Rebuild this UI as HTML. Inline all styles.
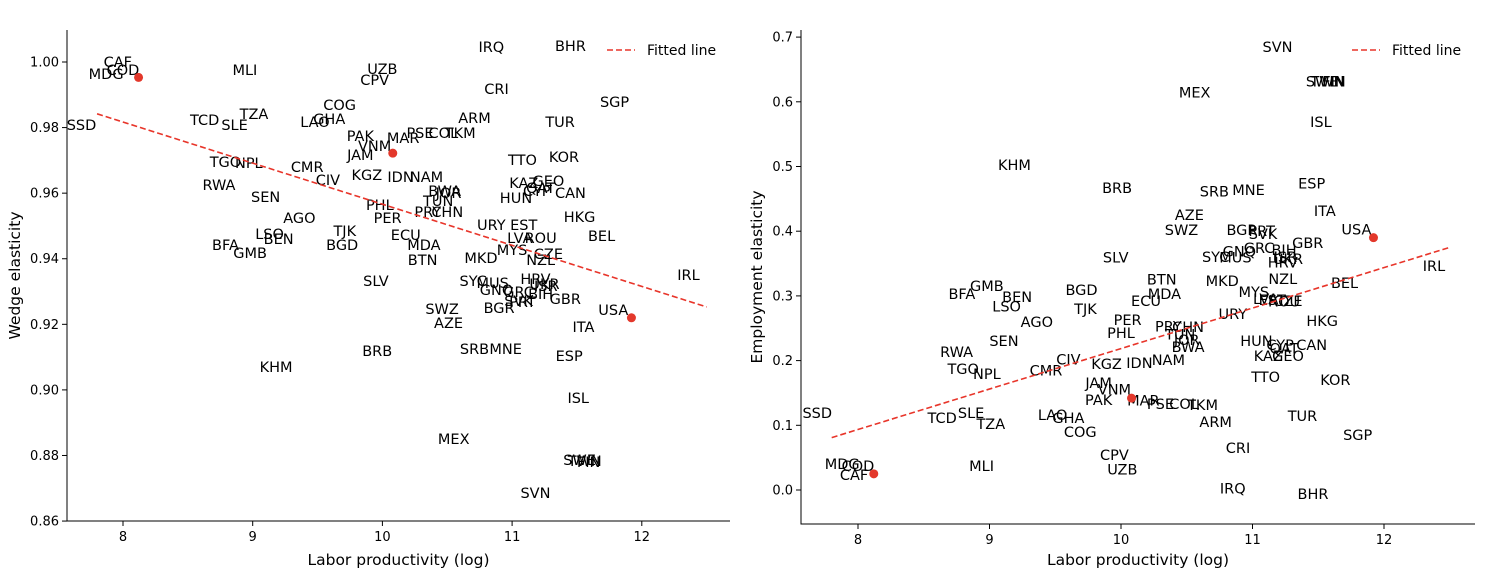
<!DOCTYPE html>
<html><head><meta charset="utf-8"><style>
body{margin:0;background:#fff;font-family:"Liberation Sans","DejaVu Sans",sans-serif}
svg text{font-family:"DejaVu Sans","Liberation Sans",sans-serif}
</style></head><body>
<svg id="c" width="1492" height="577" xmlns="http://www.w3.org/2000/svg"></svg>
<script>
const leftLabels=[["CAF",7.96,1.000],["COD",8.00,0.9976],["MDG",7.87,0.9963],["SSD",7.68,0.9808],["TCD",8.63,0.9823],["SLE",8.86,0.9808],["TZA",9.01,0.9841],["MLI",8.94,0.9976],["LAO",9.48,0.9817],["GHA",9.59,0.9826],["COG",9.67,0.9869],["UZB",10.00,0.9979],["CPV",9.94,0.9945],["IRQ",10.84,1.0046],["BHR",11.45,1.0049],["CRI",10.88,0.9918],["SGP",11.79,0.9878],["TUR",11.37,0.9817],["ARM",10.71,0.9829],["PAK",9.83,0.9774],["VNM",9.94,0.9744],["MAR",10.16,0.9768],["PSE",10.29,0.9783],["COL",10.47,0.9783],["TKM",10.60,0.9783],["JAM",9.83,0.9716],["TGO",8.79,0.9695],["NPL",8.97,0.9692],["CMR",9.42,0.9680],["CIV",9.58,0.9640],["KGZ",9.88,0.9655],["IDN",10.14,0.9649],["NAM",10.34,0.9649],["KOR",11.40,0.9710],["TTO",11.08,0.9701],["RWA",8.74,0.9625],["SEN",9.10,0.9588],["KAZ",11.09,0.9631],["GEO",11.28,0.9637],["QAT",11.22,0.9616],["CYP",11.19,0.9607],["CAN",11.45,0.9600],["HUN",11.03,0.9585],["BWA",10.48,0.9607],["JOR",10.51,0.9600],["TUN",10.43,0.9576],["PHL",9.98,0.9564],["PRY",10.35,0.9543],["CHN",10.50,0.9543],["PER",10.04,0.9524],["AGO",9.36,0.9524],["HKG",11.52,0.9527],["URY",10.84,0.9503],["EST",11.09,0.9503],["TJK",9.71,0.9485],["LSO",9.13,0.9475],["BEN",9.20,0.9460],["ECU",10.18,0.9472],["BEL",11.69,0.9469],["LVA",11.06,0.9463],["ROU",11.22,0.9463],["BFA",8.79,0.9442],["BGD",9.69,0.9442],["MDA",10.32,0.9442],["MYS",11.00,0.9427],["GMB",8.98,0.9417],["CZE",11.28,0.9414],["MKD",10.76,0.9402],["BTN",10.31,0.9396],["NZL",11.22,0.9396],["IRL",12.36,0.9350],["HRV",11.18,0.9338],["SLV",9.95,0.9332],["SYC",10.70,0.9332],["MUS",10.85,0.9326],["UKR",11.25,0.9323],["ISR",11.26,0.9317],["GNQ",10.88,0.9305],["GRC",11.05,0.9298],["BIH",11.22,0.9292],["SVK",11.05,0.9271],["PRT",11.08,0.9268],["GBR",11.41,0.9277],["BGR",10.90,0.9250],["SWZ",10.46,0.9247],["USA",11.78,0.9244],["AZE",10.51,0.9204],["ITA",11.55,0.9192],["SRB",10.71,0.9125],["MNE",10.95,0.9125],["BRB",9.96,0.9119],["ESP",11.44,0.9104],["KHM",9.18,0.9070],["ISL",11.51,0.8975],["MEX",10.55,0.8850],["SWE",11.52,0.8786],["TWN",11.56,0.8783],["FIN",11.59,0.8780],["SVN",11.18,0.8685]];
const rightLabels=[["SVN",11.19,0.685],["SWE",11.53,0.631],["TWN",11.57,0.631],["FIN",11.62,0.631],["MEX",10.56,0.614],["ISL",11.52,0.569],["KHM",9.19,0.502],["BRB",9.97,0.467],["SRB",10.71,0.461],["MNE",10.97,0.464],["ESP",11.45,0.474],["AZE",10.52,0.425],["ITA",11.55,0.431],["SWZ",10.46,0.402],["BGR",10.92,0.402],["SVK",11.08,0.396],["PRT",11.07,0.400],["USA",11.79,0.403],["GBR",11.42,0.382],["GNQ",10.90,0.369],["GRC",11.05,0.374],["BIH",11.24,0.371],["ISR",11.25,0.360],["UKR",11.27,0.357],["SYC",10.72,0.360],["MUS",10.87,0.359],["SLV",9.96,0.359],["IRL",12.38,0.346],["NZL",11.23,0.326],["HRV",11.23,0.352],["BTN",10.31,0.325],["MKD",10.77,0.323],["BEL",11.70,0.320],["MDA",10.33,0.303],["MYS",11.01,0.306],["LVA",11.10,0.295],["EST",11.15,0.294],["CZE",11.27,0.292],["ROU",11.24,0.291],["BGD",9.70,0.309],["GMB",8.98,0.315],["BFA",8.79,0.303],["BEN",9.21,0.298],["ECU",10.19,0.292],["LSO",9.13,0.284],["TJK",9.73,0.280],["URY",10.85,0.272],["AGO",9.36,0.260],["PER",10.05,0.263],["HKG",11.53,0.261],["PRY",10.36,0.253],["CHN",10.51,0.252],["PHL",10.00,0.243],["TUN",10.45,0.240],["JOR",10.50,0.232],["BWA",10.51,0.221],["SEN",9.11,0.230],["HUN",11.03,0.230],["CYP",11.21,0.224],["QAT",11.24,0.219],["CAN",11.45,0.224],["KAZ",11.12,0.207],["GEO",11.27,0.207],["RWA",8.75,0.213],["CIV",9.60,0.202],["IDN",10.14,0.196],["NAM",10.36,0.201],["KGZ",9.89,0.195],["TGO",8.80,0.187],["NPL",8.98,0.179],["CMR",9.43,0.185],["TTO",11.10,0.175],["KOR",11.63,0.170],["JAM",9.83,0.165],["VNM",9.95,0.155],["PAK",9.83,0.139],["MAR",10.17,0.138],["PSE",10.30,0.133],["COL",10.48,0.133],["TKM",10.62,0.131],["SSD",7.69,0.119],["TCD",8.64,0.111],["SLE",8.86,0.119],["LAO",9.48,0.116],["GHA",9.60,0.111],["TZA",9.01,0.102],["ARM",10.72,0.105],["TUR",11.38,0.114],["COG",9.69,0.090],["SGP",11.80,0.085],["CRI",10.89,0.065],["CPV",9.95,0.054],["MDG",7.88,0.040],["COD",8.00,0.037],["MLI",8.94,0.037],["UZB",10.01,0.032],["CAF",7.97,0.023],["IRQ",10.85,0.002],["BHR",11.46,-0.006]];
const leftHighlightX=[8.12,10.08,11.92];
const leftHighlightY=[0.9953,0.9722,0.9220];
const rightHighlightX=[8.12,10.08,11.92];
const rightHighlightY=[0.025,0.142,0.390];
const leftFitX=[7.8,12.5];
const leftFitY=[0.9842,0.9253];
const rightFitX=[7.8,12.5];
const rightFitY=[0.081,0.375];
const xTicks=[8,9,10,11,12];
const leftYTicks=[0.86,0.88,0.90,0.92,0.94,0.96,0.98,1.00];
const rightYTicks=[0.0,0.1,0.2,0.3,0.4,0.5,0.6,0.7];

const svg=document.getElementById('c');
const NS='http://www.w3.org/2000/svg';
function mk(tag,attrs,parent,txt){const e=document.createElementNS(NS,tag);for(const k in attrs)e.setAttribute(k,attrs[k]);if(txt!==undefined)e.textContent=txt;parent.appendChild(e);return e;}

function panel(o){
  const g=mk('g',{},svg);
  
  
  const sx=v=>o.px0+(v-o.x0)*o.kx;
  const sy=v=>o.py0-(v-o.y0)*o.ky;
  const ax=mk('path',{d:`M${o.L},${o.T}V${o.B}H${o.R}`,stroke:'#000','stroke-width':1,fill:'none'},g);
  
  
  xTicks.forEach(t=>{const x=sx(t);
    mk('line',{x1:x,x2:x,y1:o.B,y2:o.B+5,stroke:'#000'},g);
    const tl=mk('text',{x:x,y:o.B+20,'text-anchor':'middle','font-size':13},g,String(t));
    
    
  });
  o.yTicks.forEach(t=>{const y=sy(t);
    mk('line',{x1:o.L-5,x2:o.L,y1:y,y2:y,stroke:'#000'},g);
    const tl=mk('text',{x:o.L-8,y:y+4.5,'text-anchor':'end','font-size':13},g,t.toFixed(o.dec));
    
    
  });
  const xt=mk('text',{x:(o.L+o.R)/2,y:565,'text-anchor':'middle','font-size':15.5},g,'Labor productivity (log)');
  
  
  const yt=mk('text',{x:0,y:0,'text-anchor':'middle','font-size':15.5,transform:`translate(${o.yTitleX},${(o.T+o.B)/2}) rotate(-90)`},g,o.yTitle);
  
  
  o.labels.forEach(d=>{
    const t=mk('text',{x:sx(d[1]),y:sy(d[2])+5,'text-anchor':'middle','font-size':14.5},g,d[0]);
    
    
  });
  const fl=mk('line',{x1:sx(o.fitX[0]),y1:sy(o.fitY[0]),x2:sx(o.fitX[1]),y2:sy(o.fitY[1]),stroke:'#e8352a','stroke-width':1.6,'stroke-dasharray':'6 3'},g);
  
  
  o.hx.forEach((x,i)=>{
    const c=mk('circle',{cx:sx(x),cy:sy(o.hy[i]),r:4.5,fill:'#e3382b'},g);
    
    
  });
  const lg=mk('g',{},g);
  
  
  mk('line',{x1:o.legX,x2:o.legX+28,y1:50,y2:50,stroke:'#e8352a','stroke-width':1.6,'stroke-dasharray':'6 3'},lg);
  mk('text',{x:o.legX+40,y:55,'font-size':14},lg,'Fitted line');
}
panel({name:'wedge-panel',L:67,R:730,T:30,B:521,x0:8,px0:123,kx:129.7,y0:1.0,py0:62,ky:3279,yTicks:leftYTicks,dec:2,labels:leftLabels,fitX:leftFitX,fitY:leftFitY,hx:leftHighlightX,hy:leftHighlightY,yTitle:'Wedge elasticity',yTitleX:20,legX:607});
panel({name:'employment-panel',L:801,R:1475,T:30,B:524,x0:8,px0:858,kx:131.5,y0:0,py0:490,ky:647,yTicks:rightYTicks,dec:1,labels:rightLabels,fitX:rightFitX,fitY:rightFitY,hx:rightHighlightX,hy:rightHighlightY,yTitle:'Employment elasticity',yTitleX:762,legX:1352});
</script>
</body></html>
